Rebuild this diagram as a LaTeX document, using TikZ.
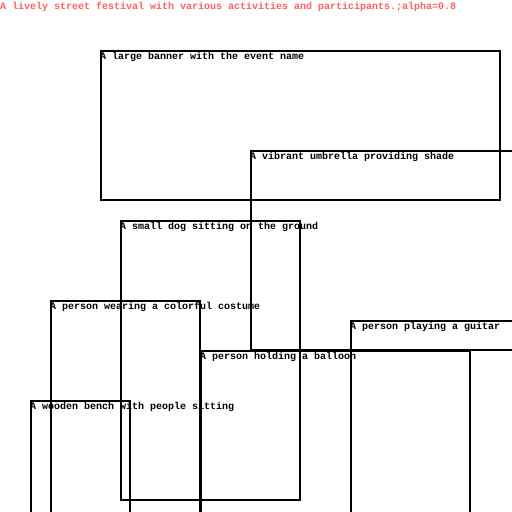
\documentclass[tikz,border=0pt]{standalone}
\usepackage{fontspec}
\setmonofont{Liberation Mono}
\definecolor{titlered}{RGB}{255,96,96}
\tikzset{
  box/.style={draw=black, line width=2pt},
  lbl/.style={anchor=west, inner sep=0pt, font=\ttfamily\bfseries\fontsize{10}{10}\selectfont, text=black},
  ttl/.style={anchor=west, inner sep=0pt, font=\ttfamily\bfseries\fontsize{10}{10}\selectfont, text=titlered}
}
\begin{document}
\begin{tikzpicture}[x=1pt,y=-1pt]
\useasboundingbox (0,0) rectangle (512,512);
\fill[white] (0,0) rectangle (512,512);
\begin{scope}
\clip (0,0) rectangle (512,512);
\draw[box] (101,51) rectangle (500,200);
\draw[box] (251,151) rectangle (530,350);
\draw[box] (121,221) rectangle (300,500);
\draw[box] (51,301) rectangle (200,530);
\draw[box] (351,321) rectangle (530,530);
\draw[box] (201,351) rectangle (470,530);
\draw[box] (31,401) rectangle (130,530);
\end{scope}
\node[ttl] (title) at (0,7) {A lively street festival with various activities and participants.;alpha=0.8};
\node[lbl] (banner) at (100,57) {A large banner with the event name};
\node[lbl] (umbrella) at (250,157) {A vibrant umbrella providing shade};
\node[lbl] (dog) at (120,227) {A small dog sitting on the ground};
\node[lbl] (costume) at (50,307) {A person wearing a colorful costume};
\node[lbl] (guitar) at (350,327) {A person playing a guitar};
\node[lbl] (balloon) at (200,357) {A person holding a balloon};
\node[lbl] (bench) at (30,407) {A wooden bench with people sitting};
\end{tikzpicture}
\end{document}
